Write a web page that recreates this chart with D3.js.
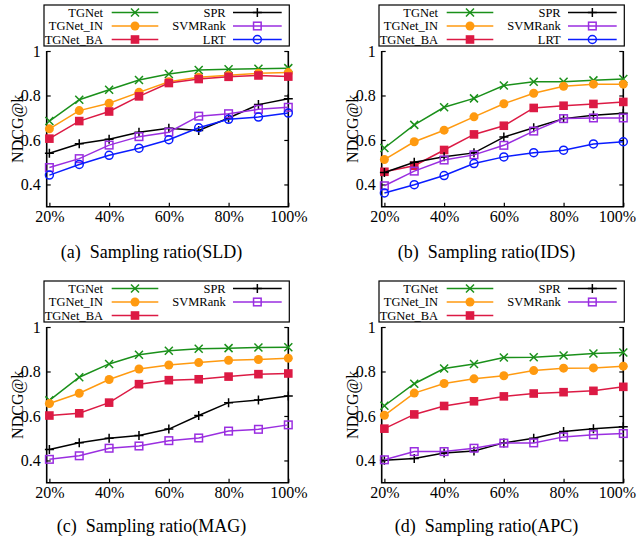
<!DOCTYPE html>
<html>
<head>
<meta charset="utf-8">
<script src="https://cdn.jsdelivr.net/npm/d3@7"></script>
<style>
  body { margin: 0; background: #fff; }
  svg { display: block; }
  text { font-family: "Liberation Serif", "Times New Roman", serif; fill: #000; }
</style>
</head>
<body>
<svg id="chart" width="637" height="544"></svg>
<script>
// sampling ratios (x axis) and tick labels
var ratios = [20, 30, 40, 50, 60, 70, 80, 90, 100];
var xTicks = [20, 40, 60, 80, 100];
var xTickLabels = ["20%", "40%", "60%", "80%", "100%"];
var yTicks = [0.4, 0.6, 0.8, 1];
var yTickLabels = ["0.4", "0.6", "0.8", "1"];

var seriesNames = ["TGNet", "TGNet_IN", "TGNet_BA", "SPR", "SVMRank", "LRT"];
var seriesColors = ["#1a901a", "#ff9a10", "#dc1a44", "#000000", "#9a2ee0", "#0a1cff"];
var seriesMarkers = ["x", "circleFill", "squareFill", "plus", "squareOpen", "circleOpen"];

// (a) SLD
var sldTGNet   = [0.685, 0.781, 0.826, 0.870, 0.897, 0.915, 0.918, 0.920, 0.923];
var sldTGNetIN = [0.650, 0.732, 0.765, 0.814, 0.862, 0.882, 0.891, 0.900, 0.903];
var sldTGNetBA = [0.606, 0.685, 0.728, 0.796, 0.856, 0.874, 0.884, 0.890, 0.885];
var sldSPR     = [0.540, 0.583, 0.603, 0.635, 0.653, 0.643, 0.699, 0.759, 0.785];
var sldSVMRank = [0.476, 0.516, 0.577, 0.615, 0.635, 0.707, 0.718, 0.738, 0.747];
var sldLRT     = [0.442, 0.490, 0.531, 0.563, 0.601, 0.655, 0.693, 0.703, 0.721];

// (b) IDS
var idsTGNet   = [0.564, 0.668, 0.747, 0.787, 0.845, 0.862, 0.862, 0.868, 0.874];
var idsTGNetIN = [0.512, 0.592, 0.644, 0.704, 0.763, 0.810, 0.841, 0.851, 0.851];
var idsTGNetBA = [0.457, 0.484, 0.555, 0.625, 0.664, 0.744, 0.754, 0.762, 0.771];
var idsSPR     = [0.454, 0.500, 0.525, 0.542, 0.613, 0.655, 0.696, 0.711, 0.720];
var idsSVMRank = [0.394, 0.460, 0.510, 0.533, 0.576, 0.640, 0.696, 0.699, 0.699];
var idsLRT     = [0.362, 0.399, 0.440, 0.494, 0.524, 0.543, 0.554, 0.582, 0.592];

// (c) MAG
var magTGNet   = [0.670, 0.774, 0.834, 0.875, 0.893, 0.902, 0.905, 0.908, 0.909];
var magTGNetIN = [0.656, 0.702, 0.764, 0.811, 0.829, 0.840, 0.850, 0.854, 0.860];
var magTGNetBA = [0.602, 0.612, 0.660, 0.743, 0.761, 0.765, 0.777, 0.788, 0.791];
var magSPR     = [0.449, 0.480, 0.500, 0.512, 0.541, 0.602, 0.660, 0.672, 0.690];
var magSVMRank = [0.405, 0.421, 0.455, 0.465, 0.489, 0.501, 0.532, 0.540, 0.560];

// (d) APC
var apcTGNet   = [0.646, 0.745, 0.813, 0.834, 0.863, 0.864, 0.872, 0.881, 0.885];
var apcTGNetIN = [0.603, 0.703, 0.746, 0.767, 0.781, 0.804, 0.815, 0.816, 0.824];
var apcTGNetBA = [0.543, 0.607, 0.645, 0.666, 0.688, 0.701, 0.707, 0.713, 0.731];
var apcSPR     = [0.401, 0.409, 0.433, 0.443, 0.479, 0.500, 0.530, 0.543, 0.551];
var apcSVMRank = [0.403, 0.440, 0.440, 0.455, 0.478, 0.479, 0.506, 0.516, 0.521];

var panels = [
    {caption: "(a)\u00a0\u00a0Sampling ratio(SLD)", dx: 0, dy: 0, capY: 258,
     values: [sldTGNet, sldTGNetIN, sldTGNetBA, sldSPR, sldSVMRank, sldLRT]},
    {caption: "(b)\u00a0\u00a0Sampling ratio(IDS)", dx: 335, dy: 0, capY: 258,
     values: [idsTGNet, idsTGNetIN, idsTGNetBA, idsSPR, idsSVMRank, idsLRT]},
    {caption: "(c)\u00a0\u00a0Sampling ratio(MAG)", dx: 0, dy: 276, capY: 532,
     values: [magTGNet, magTGNetIN, magTGNetBA, magSPR, magSVMRank]},
    {caption: "(d)\u00a0\u00a0Sampling ratio(APC)", dx: 335, dy: 276, capY: 532,
     values: [apcTGNet, apcTGNetIN, apcTGNetBA, apcSPR, apcSVMRank]}
];

var svg = d3.select("#chart");
var svgWidth = 637;
var plot = {left: 46.7, right: 288.3, top: 51, bottom: 206.7};

panels.forEach(drawPanel);

function drawPanel(p) {
    var g = svg.append("g").attr("transform", "translate(" + p.dx + "," + p.dy + ")");

    var x = d3.scaleLinear().domain([19.1, 100]).range([plot.left, plot.right]);
    var y = d3.scaleLinear().domain([0.3, 1]).range([plot.bottom, plot.top]);

    // inward ticks, gnuplot style
    var yAxis = d3.axisLeft(y).tickValues(yTicks)
        .tickFormat(function(d, i) { return yTickLabels[i]; })
        .tickSize(-4).tickPadding(6);
    var yAxisR = d3.axisRight(y).tickValues(yTicks).tickFormat("").tickSize(-4);
    var xAxis = d3.axisBottom(x).tickValues(xTicks)
        .tickFormat(function(d, i) { return xTickLabels[i]; })
        .tickSize(-4).tickPadding(4);

    var ga = g.append("g").attr("transform", "translate(" + plot.left + ",0)").call(yAxis);
    var gr = g.append("g").attr("transform", "translate(" + plot.right + ",0)").call(yAxisR);
    var gb = g.append("g").attr("transform", "translate(0," + plot.bottom + ")").call(xAxis);
    [ga, gr, gb].forEach(function(a) {
        a.select(".domain").remove();
        a.selectAll(".tick line").attr("stroke", "#000").attr("stroke-width", 1.2);
        a.selectAll("text").attr("font-size", 16).attr("font-family", null);
    });

    // keep the last x label inside the page (it sits at the right edge)
    gb.selectAll(".tick text").each(function() {
        var b = this.getBBox();
        var tickX = +d3.select(this.parentNode).attr("transform").match(/translate\(([^,]+)/)[1];
        var over = p.dx + tickX + b.x + b.width - (svgWidth - 1);
        if (over > 0) d3.select(this).attr("x", -over);
    });

    // border: left, bottom, right
    g.append("path")
        .attr("d", "M" + plot.left + "," + plot.top + "V" + plot.bottom +
                   "H" + plot.right + "V" + plot.top)
        .attr("fill", "none").attr("stroke", "#000").attr("stroke-width", 1.6);

    g.append("text")
        .attr("transform", "translate(17.5," + ((plot.top + plot.bottom) / 2) + ") rotate(-90)")
        .attr("text-anchor", "middle").attr("dy", "0.35em")
        .attr("font-size", 16)
        .text("NDCG@k");

    var line = d3.line()
        .x(function(d, i) { return x(ratios[i]); })
        .y(function(d) { return y(d); });

    p.values.forEach(function(vals, s) {
        g.append("path").datum(vals)
            .attr("d", line)
            .attr("fill", "none")
            .attr("stroke", seriesColors[s])
            .attr("stroke-width", 1.5);
        vals.forEach(function(v, i) {
            drawMarker(g, seriesMarkers[s], x(ratios[i]), y(v), seriesColors[s]);
        });
    });

    // legend
    g.append("rect")
        .attr("x", 44).attr("y", 5).attr("width", 245.3).attr("height", 41)
        .attr("fill", "#fff").attr("stroke", "#000").attr("stroke-width", 1.2);
    var rowY = [12.5, 26, 39.5];
    p.values.forEach(function(vals, s) {
        var col = s < 3 ? 0 : 1;
        var row = s % 3;
        var textX = col === 0 ? 103 : 225.7;
        var x1 = col === 0 ? 111.7 : 233;
        var x2 = col === 0 ? 158.3 : 281.7;
        g.append("text")
            .attr("x", textX).attr("y", rowY[row]).attr("dy", "0.35em")
            .attr("text-anchor", "end").attr("font-size", 12.5)
            .text(seriesNames[s]);
        g.append("line")
            .attr("x1", x1).attr("x2", x2).attr("y1", rowY[row]).attr("y2", rowY[row])
            .attr("stroke", seriesColors[s]).attr("stroke-width", 1.5);
        drawMarker(g, seriesMarkers[s], (x1 + x2) / 2, rowY[row], seriesColors[s]);
    });

    g.append("text")
        .attr("x", 151.5).attr("y", p.capY - p.dy)
        .attr("text-anchor", "middle").attr("font-size", 18)
        .text(p.caption);
}

function drawMarker(g, type, cx, cy, color) {
    if (type === "x") {
        g.append("path").attr("d", "M" + (cx - 4) + "," + (cy - 4) + "l8,8m-8,0l8,-8")
            .attr("stroke", color).attr("stroke-width", 1.5).attr("fill", "none");
    } else if (type === "plus") {
        g.append("path").attr("d", "M" + (cx - 4.5) + "," + cy + "h9m-4.5,-4.5v9")
            .attr("stroke", color).attr("stroke-width", 1.5).attr("fill", "none");
    } else if (type === "circleFill") {
        g.append("circle").attr("cx", cx).attr("cy", cy).attr("r", 4.5).attr("fill", color);
    } else if (type === "squareFill") {
        g.append("rect").attr("x", cx - 4.3).attr("y", cy - 4.3)
            .attr("width", 8.6).attr("height", 8.6).attr("fill", color);
    } else if (type === "squareOpen") {
        g.append("rect").attr("x", cx - 3.8).attr("y", cy - 3.8)
            .attr("width", 7.6).attr("height", 7.6)
            .attr("fill", "none").attr("stroke", color).attr("stroke-width", 1.5);
    } else if (type === "circleOpen") {
        g.append("circle").attr("cx", cx).attr("cy", cy).attr("r", 4)
            .attr("fill", "none").attr("stroke", color).attr("stroke-width", 1.5);
    }
}
</script>
</body>
</html>
